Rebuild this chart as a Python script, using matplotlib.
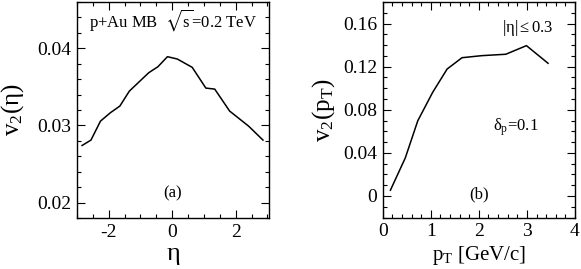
import matplotlib
matplotlib.use("Agg")
import matplotlib.pyplot as plt
from matplotlib.ticker import MultipleLocator

plt.rcParams['font.family'] = ['Liberation Serif', 'DejaVu Serif']
plt.rcParams['mathtext.fontset'] = 'stix'

# Panel (a): v2 vs eta
eta = [-2.84, -2.56, -2.26, -1.95, -1.65, -1.35, -1.04, -0.74, -0.45, -0.15,
       0.16, 0.63, 1.06, 1.34, 1.81, 2.41, 2.86]
v2_eta = [0.0274, 0.0281, 0.03056, 0.03164, 0.03251, 0.03445, 0.03566, 0.03683,
          0.03761, 0.03891, 0.03861, 0.03753, 0.03484, 0.03471, 0.03186, 0.0299, 0.0281]

# Panel (b): v2 vs pT
pt = [0.16, 0.47, 0.73, 1.04, 1.34, 1.65, 2.06, 2.56, 2.99, 3.44]
v2_pt = [0.0053, 0.0353, 0.0698, 0.0962, 0.1178, 0.1283, 0.1302, 0.1315, 0.1395, 0.1231]

eta_ticks = [-2, 0, 2]
eta_ticklabels = ['-2', '0', '2']
v2eta_ticks = [0.02, 0.03, 0.04]
v2eta_ticklabels = ['0.02', '0.03', '0.04']
pt_ticks = [0, 1, 2, 3, 4]
pt_ticklabels = ['0', '1', '2', '3', '4']
v2pt_ticks = [0, 0.04, 0.08, 0.12, 0.16]
v2pt_ticklabels = ['0', '0.04', '0.08', '0.12', '0.16']

fig = plt.figure(figsize=(5.81, 2.69), dpi=100)
ax1 = fig.add_axes([77/581, 1-218/269, (269-77)/581, 216/269])
ax2 = fig.add_axes([382.7/581, 1-217.5/269, (575-382.7)/581, 215.5/269])

TICKFS = 14

def style(ax):
    ax.tick_params(which='both', direction='in', top=True, right=True,
                   labelsize=TICKFS, width=0.8, pad=4)
    ax.tick_params(which='major', length=5.5)
    ax.tick_params(which='minor', length=2.8)
    for s in ax.spines.values():
        s.set_linewidth(1.0)

ax1.plot(eta, v2_eta, color='black', lw=1.1)
ax1.set_xlim(-3.0, 3.05)
ax1.set_ylim(0.018, 0.046)
ax1.set_xticks(eta_ticks)
ax1.set_xticklabels(eta_ticklabels)
ax1.set_yticks(v2eta_ticks)
ax1.set_yticklabels(v2eta_ticklabels)
ax1.xaxis.set_minor_locator(MultipleLocator(0.5))
ax1.yaxis.set_minor_locator(MultipleLocator(0.002))
style(ax1)
ax1.set_xlabel(r'$\mathregular{\eta}$', fontsize=19, labelpad=3)
ax1.set_ylabel(r'$\mathregular{v_2(\eta)}$', fontsize=18, labelpad=8)
ax1.text(0.5, 0.915, r'p+Au MB  $\mathregular{\sqrt{s}}$=0.2 TeV', transform=ax1.transAxes,
         ha='center', va='center', fontsize=12)
ax1.text(0.5, 0.115, '(a)', transform=ax1.transAxes, ha='center', va='center', fontsize=12)

ax2.plot(pt, v2_pt, color='black', lw=1.1)
ax2.set_xlim(0, 4)
ax2.set_ylim(-0.02, 0.18)
ax2.set_xticks(pt_ticks)
ax2.set_xticklabels(pt_ticklabels)
ax2.set_yticks(v2pt_ticks)
ax2.set_yticklabels(v2pt_ticklabels)
ax2.xaxis.set_minor_locator(MultipleLocator(0.2))
ax2.yaxis.set_minor_locator(MultipleLocator(0.01))
style(ax2)
ax2.set_xlabel(r'$\mathregular{p_T}$ [GeV/c]', fontsize=15, labelpad=3)
ax2.set_ylabel(r'$\mathregular{v_2(p_T)}$', fontsize=18, labelpad=4)
ax2.text(0.755, 0.88, r'$\mathregular{|\eta|\leq 0.3}$', transform=ax2.transAxes,
         ha='center', va='center', fontsize=12)
ax2.text(0.69, 0.42, r'$\mathregular{\delta_p}$=0.1', transform=ax2.transAxes,
         ha='center', va='center', fontsize=12)
ax2.text(0.5, 0.105, '(b)', transform=ax2.transAxes, ha='center', va='center', fontsize=12)

fig.savefig('out.png', dpi=100)
